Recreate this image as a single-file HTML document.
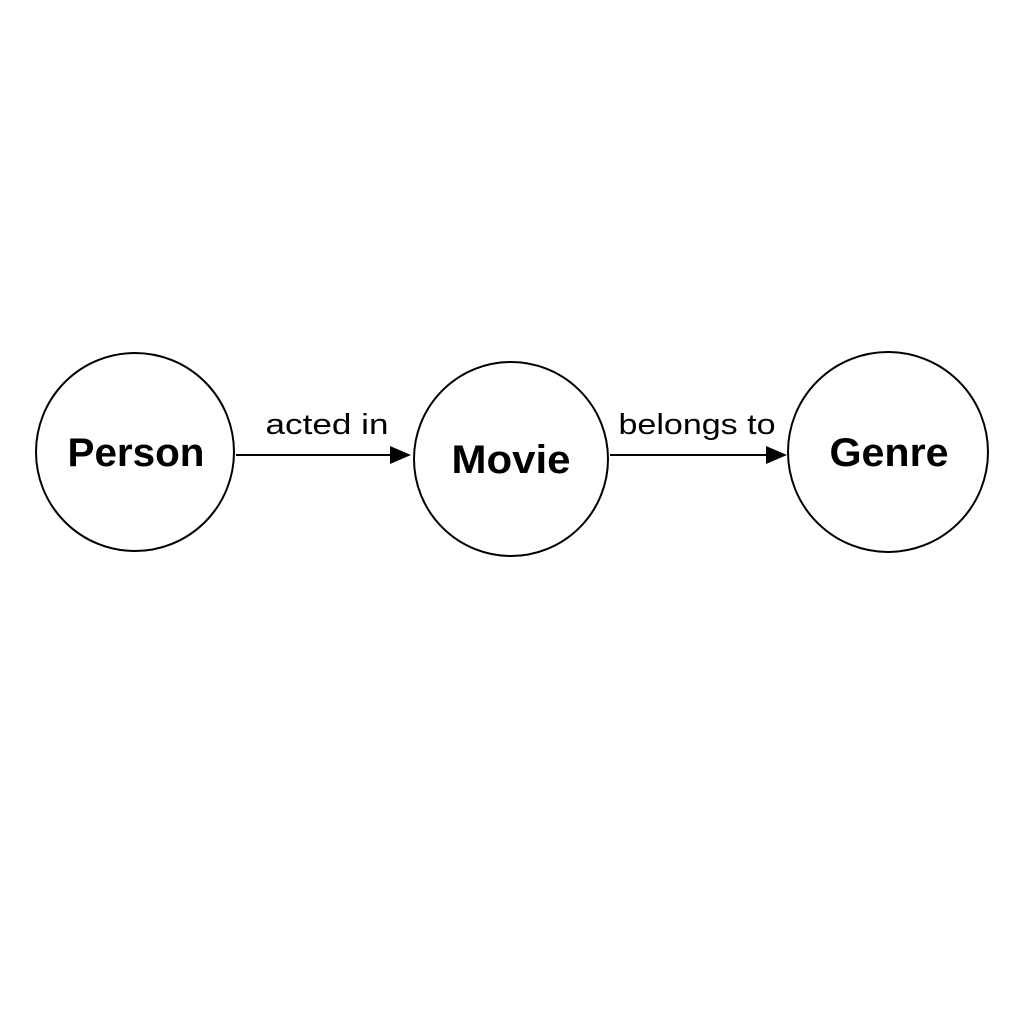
<!DOCTYPE html>
<html><head><style>html,body{margin:0;padding:0;background:#fff;}</style></head>
<body>
<svg width="1024" height="1024" viewBox="0 0 1024 1024" xmlns="http://www.w3.org/2000/svg">
<rect width="1024" height="1024" fill="#fff"/>
<g fill="none" stroke="#000" stroke-width="2">
<circle cx="135" cy="452" r="99"/>
<circle cx="511" cy="459" r="97"/>
<circle cx="888" cy="452" r="100"/>
<line x1="236" y1="455" x2="392" y2="455"/>
<line x1="610" y1="455" x2="768" y2="455"/>
</g>
<polygon points="390,446 411,455 390,464" fill="#000"/>
<polygon points="766,446 787,455 766,464" fill="#000"/>
<g font-family="Liberation Sans, sans-serif" fill="#000" text-anchor="middle">
<text x="136" y="466" font-size="40" font-weight="bold" textLength="137" lengthAdjust="spacingAndGlyphs">Person</text>
<text x="511" y="473" font-size="40" font-weight="bold" textLength="119" lengthAdjust="spacingAndGlyphs">Movie</text>
<text x="889" y="466" font-size="40" font-weight="bold" textLength="119" lengthAdjust="spacingAndGlyphs">Genre</text>
<text x="327" y="434" font-size="29" textLength="123" lengthAdjust="spacingAndGlyphs">acted in</text>
<text x="697" y="434" font-size="29" textLength="157" lengthAdjust="spacingAndGlyphs">belongs to</text>
</g>
</svg>
</body></html>
